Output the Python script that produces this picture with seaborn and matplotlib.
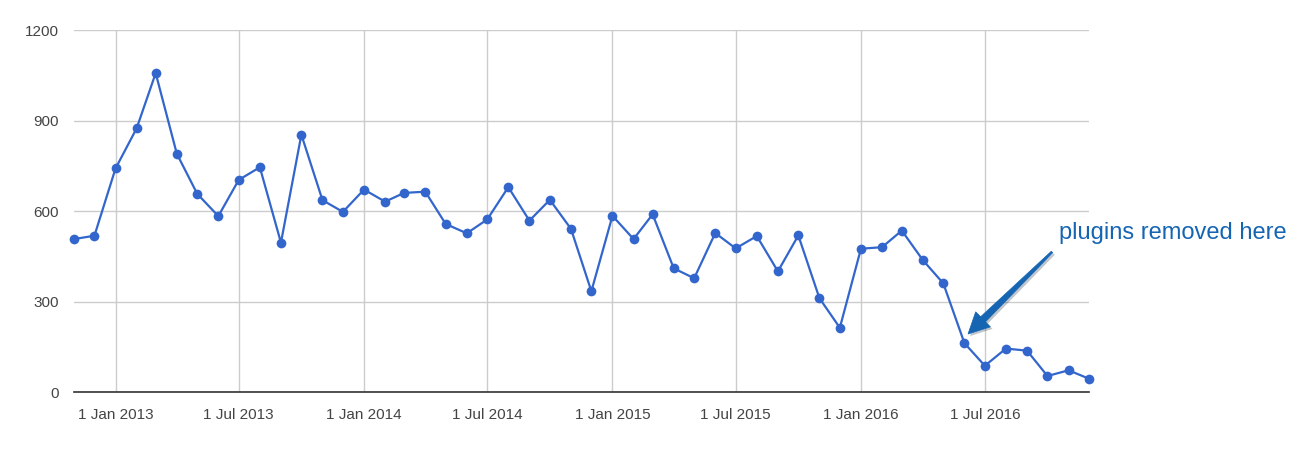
import matplotlib
matplotlib.use("Agg")
import matplotlib.pyplot as plt
import matplotlib.dates as mdates
import matplotlib.patheffects as pe
from matplotlib.patches import Polygon
import numpy as np
import pandas as pd
import seaborn as sns

# ---- data ----
months = pd.date_range("2012-11-01", periods=50, freq="MS")
values = [508, 519, 742, 875, 1058, 791, 658, 584, 704, 746,
          496, 854, 637, 598, 672, 632, 661, 665, 558, 527,
          573, 680, 569, 638, 542, 335, 585, 508, 590, 411,
          378, 528, 477, 518, 401, 520, 312, 214, 476, 481,
          536, 438, 361, 163, 88, 145, 138, 54, 73, 45]
y_ticks = [0, 300, 600, 900, 1200]
annotation_text = "plugins removed here"

df = pd.DataFrame({"month": months, "value": values})

sns.set_theme(style="white")
plt.rcParams["font.family"] = ["Liberation Sans", "DejaVu Sans"]

W, H = 1301, 453
fig = plt.figure(figsize=(W / 100, H / 100), dpi=100)
ax = fig.add_axes([74 / W, 1 - 392.3 / H, (1089 - 74) / W, (392.3 - 30.3) / H])

line_color = "#3366cc"
sns.lineplot(data=df, x="month", y="value", ax=ax, color=line_color,
             linewidth=1.6, marker="o", markersize=7,
             markeredgewidth=0, markerfacecolor=line_color, zorder=3,
             clip_on=False)

ax.set_xlim(months[0], months[-1])
ax.set_ylim(0, 1200)
ax.set_yticks(y_ticks)
ax.xaxis.set_major_locator(mdates.MonthLocator(bymonth=[1, 7]))
ax.xaxis.set_major_formatter(mdates.DateFormatter("1 %b %Y"))

ax.grid(True, color="#cccccc", linewidth=1.0, zorder=0)
for s in ["top", "right", "left"]:
    ax.spines[s].set_visible(False)
ax.spines["bottom"].set_color("#333333")
ax.spines["bottom"].set_linewidth(1.2)
ax.spines["bottom"].set_zorder(2)

ax.tick_params(axis="both", length=0, labelsize=11, labelcolor="#444444")
ax.tick_params(axis="x", pad=11)
ax.tick_params(axis="y", pad=11)
ax.set_xlabel("")
ax.set_ylabel("")

ann_color = "#1565b3"
fig.text(1059 / W, 1 - 233 / H, annotation_text, fontsize=17,
         color=ann_color, ha="left", va="center")

# tapered arrow (figure pixels, y up)
tail = np.array([1052.0, H - 252.0])
tip = np.array([968.0, H - 334.0])
d = (tip - tail) / np.linalg.norm(tip - tail)
n = np.array([-d[1], d[0]])
base = tip - d * 21
pts = [tail + n * 1.0, base + n * 3.5, base + n * 10.5, tip,
       base - n * 10.5, base - n * 3.5, tail - n * 1.0]
pts = [(p[0] / W, p[1] / H) for p in pts]
arrow = Polygon(pts, closed=True, transform=fig.transFigure,
                facecolor=ann_color, edgecolor=ann_color, linewidth=0.5)
arrow.set_path_effects([pe.SimplePatchShadow(offset=(1.5, -1.5), alpha=0.25),
                        pe.Normal()])
fig.patches.append(arrow)

fig.savefig("out.png", dpi=100)
